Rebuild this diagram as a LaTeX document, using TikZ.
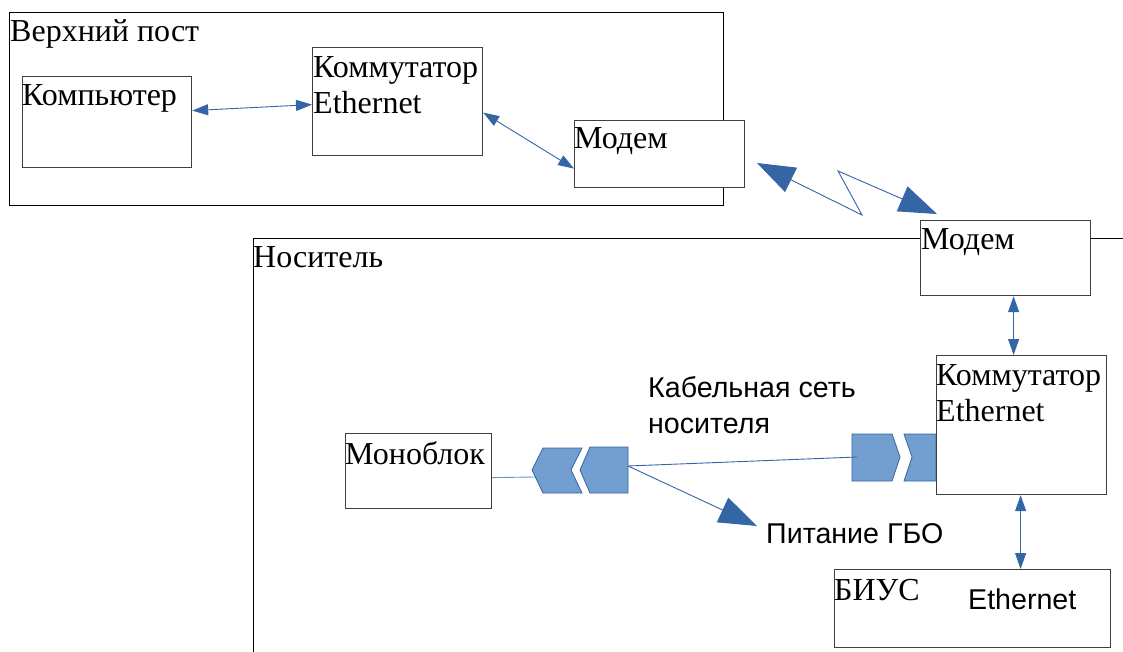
\documentclass[tikz,border=0pt]{standalone}
\usepackage{fontspec}
\setmainfont{Liberation Serif}
\setsansfont{Liberation Sans}
\usetikzlibrary{arrows.meta,calc}
\definecolor{arrblue}{RGB}{52,101,164}
\definecolor{chfill}{RGB}{114,159,207}
\definecolor{boxgray}{RGB}{64,64,64}
\tikzset{
 box/.style={draw=boxgray,line width=1.2pt,fill=white,inner sep=0pt,anchor=north west},
 lbl/.style={inner sep=0pt,anchor=base west,font=\fontsize{32}{36}\selectfont},
 slbl/.style={inner sep=0pt,anchor=base west,font=\sffamily\fontsize{28.6}{36}\selectfont},
 frame/.style={draw=black,line width=0.9pt},
 arr/.style={draw=arrblue,line width=0.9pt,{Triangle[length=16pt,width=11pt]}-{Triangle[length=16pt,width=11pt]}},
 bigarr/.style={draw=arrblue,line width=0.9pt,-{Triangle[length=38pt,width=27pt]}},
 bigarrs/.style={draw=arrblue,line width=0.9pt,{Triangle[length=38pt,width=27pt]}-{Triangle[length=38pt,width=27pt]}},
 chev/.style={draw=arrblue,line width=0.8pt,fill=chfill},
 wire/.style={draw=arrblue,line width=0.9pt},
}
\begin{document}
\begin{tikzpicture}[x=1pt,y=-1pt]
\useasboundingbox (0,0) rectangle (1123,652);
% frames
\draw[frame] (9,12) rectangle (723,205);
\draw[frame] (1123,238) -- (253,238) -- (253,652);
% boxes
\node[box,minimum width=169pt,minimum height=91pt] (komp) at (22,76) {};
\node[box,minimum width=170pt,minimum height=108pt] (ks1) at (312,47) {};
\node[box,minimum width=170pt,minimum height=67pt] (modem1) at (574,120) {};
\node[box,minimum width=170pt,minimum height=75pt] (modem2) at (920,220) {};
\node[box,minimum width=146pt,minimum height=75pt] (mono) at (345,433) {};
\node[box,minimum width=276pt,minimum height=78pt] (bius) at (834,569) {};
% chevrons
\draw[chev] (532,470) -- (543,448) -- (582,448) -- (571,470) -- (582,493) -- (543,493) -- cycle;
\draw[chev] (580,470) -- (590,447) -- (628,447) -- (628,493) -- (590,493) -- cycle;
\draw[chev] (852,434) -- (892,434) -- (900,457) -- (892,481) -- (852,481) -- cycle;
\draw[chev] (904,434) -- (936,434) -- (936,481) -- (904,481) -- (912,457) -- cycle;
\node[box,minimum width=170pt,minimum height=139pt] (ks2) at (936,355) {};
\coordinate (cl) at (535,477);
\coordinate (cm) at (628,466);
\coordinate (cr) at (857,457);
\coordinate (gbo) at (757,526);
% wires
\draw[wire,draw=chfill!80!arrblue] ([yshift=-6.5pt]mono.east) -- (cl);
\draw[wire] (cm) -- (cr);
\draw[bigarr] (cm) -- (gbo);
% arrows
\draw[arr] ([yshift=11.5pt]komp.east) -- ([yshift=-3pt]ks1.west);
\draw[arr] ([yshift=-11pt]ks1.east) -- ([yshift=-14.5pt]modem1.west);
\draw[arr] ([xshift=8pt]modem2.south) -- ([xshift=-8pt]ks2.north);
\draw[arr] ([xshift=-1pt]ks2.south) -- ([xshift=48pt]bius.north);
% radio link
\coordinate (la) at (757,163);
\coordinate (lz1) at (862,215);
\coordinate (lz2) at (838,171);
\coordinate (lb) at (937,214);
\draw[bigarrs] (la) -- (lz1) -- (lz2) -- (lb);
% labels
\node[lbl] (tvp) at (10,42) {Верхний пост};
\node[lbl] (tkomp) at (22,106) {Компьютер};
\node[lbl] (tks1) at (313,78) {\begin{tabular}[t]{@{}l@{}}Коммутатор\\Ethernet\end{tabular}};
\node[lbl] (tm1) at (574,149) {Модем};
\node[lbl] (tm2) at (921,249) {Модем};
\node[lbl] (tnos) at (253,267) {Носитель};
\node[lbl] (tmono) at (345,464) {Моноблок};
\node[lbl] (tks2) at (936,385) {\begin{tabular}[t]{@{}l@{}}Коммутатор\\Ethernet\end{tabular}};
\node[lbl] (tbius) at (834,600) {БИУС};
\node[slbl] (teth) at (968,609) {Ethernet};
\node[slbl] (tcab) at (648,397) {\begin{tabular}[t]{@{}l@{}}Кабельная сеть\\носителя\end{tabular}};
\node[slbl] (tgbo) at (766,543) {Питание ГБО};
\end{tikzpicture}
\end{document}
